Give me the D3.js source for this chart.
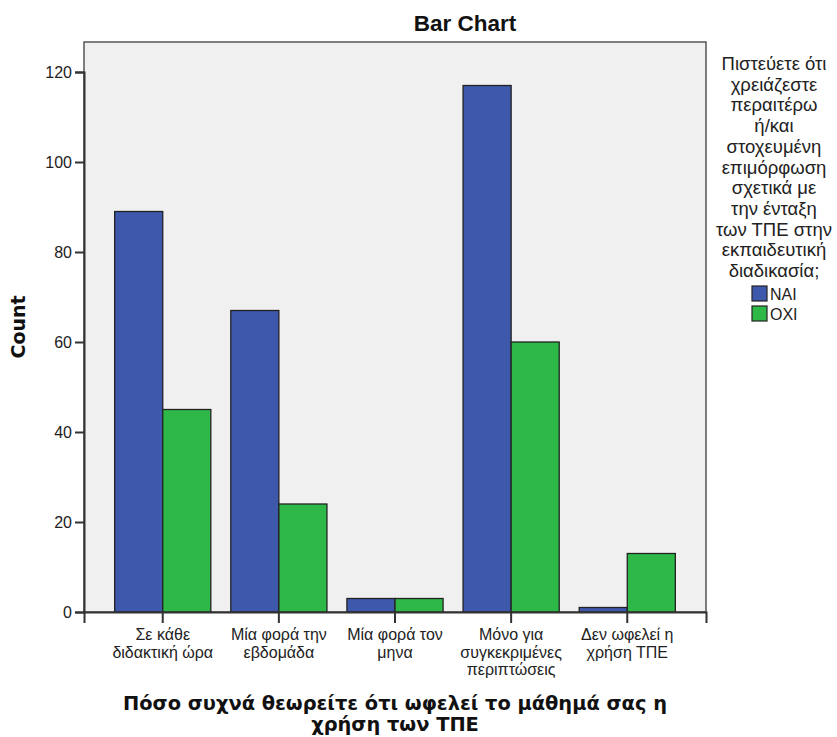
<!DOCTYPE html>
<html><head><meta charset="utf-8">
<script src="https://cdn.jsdelivr.net/npm/d3@7"></script>
<style>body{margin:0;background:#fff}svg{display:block;font-family:"Liberation Sans",Arial,sans-serif}</style>
</head><body><svg id="c" width="837" height="737"></svg>
<script>
const categories = [
  ["Σε κάθε","διδακτική ώρα"],
  ["Μία φορά την","εβδομάδα"],
  ["Μία φορά τον","μηνα"],
  ["Μόνο για","συγκεκριμένες","περιπτώσεις"],
  ["Δεν ωφελεί η","χρήση ΤΠΕ"]
];
const seriesNames = ["ΝΑΙ","ΟΧΙ"];
const naiValues = [89, 67, 3, 117, 1];
const oxiValues = [45, 24, 3, 60, 13];
const yTicks = [0, 20, 40, 60, 80, 100, 120];
const legendTitle = ["Πιστεύετε ότι","χρειάζεστε","περαιτέρω","ή/και","στοχευμένη","επιμόρφωση","σχετικά με","την ένταξη","των ΤΠΕ στην","εκπαιδευτική","διαδικασία;"];
const xTitle = ["Πόσο συχνά θεωρείτε ότι ωφελεί το μάθημά σας η","χρήση των ΤΠΕ"];
const colors = ["#3e58ac","#2eb848"];

const svg = d3.select("#c");
const L=84, R=706, T=42, B=612;
const idx = categories.map((d,i)=>i);
const x = d3.scaleBand().domain(idx).range([L,R]).paddingInner(0.172).paddingOuter(0.264);
const xs = d3.scaleBand().domain([0,1]).range([0,x.bandwidth()]);
const y = d3.scaleLinear().domain([0,120]).range([B,72]);

svg.append("rect").attr("x",L).attr("y",T).attr("width",R-L).attr("height",B-T)
  .attr("fill","#f0f0f0").attr("stroke","#555").attr("stroke-width",1.5);

const data = [naiValues, oxiValues];
data.forEach((vals,s)=>{
  svg.append("g").selectAll("rect").data(vals).join("rect")
    .attr("x",(d,i)=>x(i)+xs(s)).attr("y",d=>y(d))
    .attr("width",xs.bandwidth()).attr("height",d=>B-y(d))
    .attr("fill",colors[s]).attr("stroke","#222").attr("stroke-width",1.3);
});

// y axis
const ya = svg.append("g").attr("transform",`translate(${L},0)`)
  .call(d3.axisLeft(y).tickValues(yTicks).tickSize(9).tickPadding(3));
ya.select(".domain").attr("stroke","#333").attr("stroke-width",2);
ya.selectAll(".tick line").attr("stroke","#333").attr("stroke-width",2);
ya.selectAll("text").attr("font-size",16).attr("fill","#222");

// x axis
const xa = svg.append("g").attr("transform",`translate(0,${B})`)
  .call(d3.axisBottom(x).tickSize(11).tickFormat(""));
xa.select(".domain").attr("stroke","#333").attr("stroke-width",2);
xa.selectAll(".tick line").attr("stroke","#333").attr("stroke-width",2);
xa.selectAll(".tick").each(function(d){
  const t = d3.select(this).append("text").attr("fill","#222").attr("font-size",16).attr("text-anchor","middle");
  categories[d].forEach((ln,k)=>t.append("tspan").attr("x",0).attr("y",28+k*17.5).text(ln));
});

// title
svg.append("text").attr("x",465).attr("y",31).attr("text-anchor","middle")
  .attr("font-size",22.5).attr("font-weight","bold").attr("fill","#111").text("Bar Chart");

// y title
svg.append("text").attr("transform",`translate(25,${(T+B)/2}) rotate(-90)`).attr("text-anchor","middle")
  .attr("font-family","DejaVu Sans").attr("font-size",19).attr("font-weight","bold").attr("fill","#111").text("Count");

// x title
const xt = svg.append("text").attr("text-anchor","middle").attr("font-family","DejaVu Sans")
  .attr("font-size",19.4).attr("font-weight","bold").attr("fill","#111");
xTitle.forEach((ln,k)=>xt.append("tspan").attr("x",(L+R)/2).attr("y",710+k*21).text(ln));

// legend
const lt = svg.append("text").attr("text-anchor","middle").attr("font-size",18.5).attr("fill","#222");
legendTitle.forEach((ln,k)=>lt.append("tspan").attr("x",774).attr("y",70+k*20.7).text(ln));
const lg = svg.append("g").selectAll("g").data(seriesNames).join("g")
  .attr("transform",(d,i)=>`translate(752,${286+i*20})`);
lg.append("rect").attr("width",15).attr("height",15).attr("fill",(d,i)=>colors[i]).attr("stroke","#222").attr("stroke-width",1.2);
lg.append("text").attr("x",18).attr("y",14).attr("font-size",16).attr("fill","#222").text(d=>d);
</script></body></html>
